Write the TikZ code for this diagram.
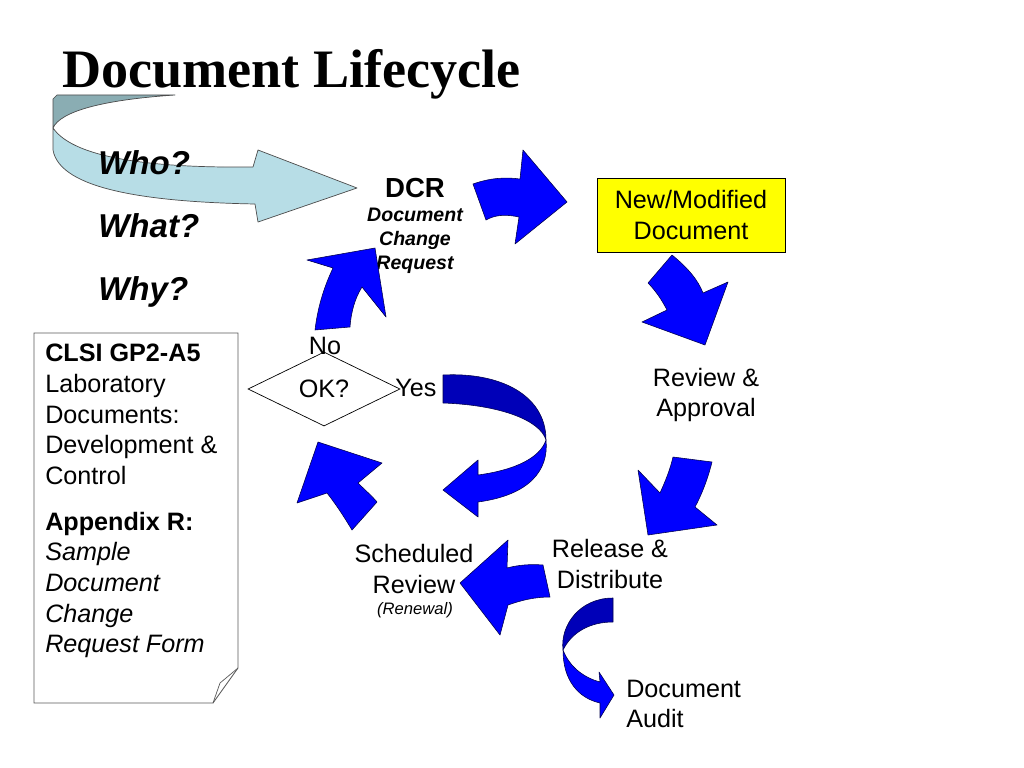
\documentclass[tikz,border=0pt]{standalone}
\usepackage{fontspec}
\setmainfont{Liberation Sans}
\newfontfamily\titlefont{Liberation Serif}
\usetikzlibrary{positioning,shapes.geometric}

\definecolor{flowblue}{HTML}{0000FF}
\definecolor{flowdark}{HTML}{0000B8}
\definecolor{flowline}{HTML}{00004A}
\definecolor{swirllight}{HTML}{B7DDE6}
\definecolor{swirldark}{HTML}{8AADB3}
\definecolor{notegray}{HTML}{5A5A5A}
\definecolor{docyellow}{HTML}{FFFF00}

\tikzset{
  flowtext/.style={font=\fontsize{17.9}{21.6}\selectfont, align=center, inner sep=0pt},
  asktext/.style={font=\fontsize{23.5}{28}\selectfont\bfseries\itshape, inner sep=0pt, anchor=base west},
  blockarrow/.style={fill=flowblue, draw=flowline, line width=0.4pt, line join=round},
  blockshade/.style={fill=flowdark, draw=flowline, line width=0.4pt, line join=round},
  swirl/.style={draw=black!70, line width=0.5pt, line join=round}
}

\begin{document}
\begin{tikzpicture}[x=0.025cm, y=-0.025cm]
  \fill[white] (0,0) rectangle (1024,768);
  \useasboundingbox (0,0) rectangle (1024,768);
  % title
  \node[font=\titlefont\fontsize{38.5}{40}\bfseries\selectfont, anchor=base west, inner sep=0pt] (title) at (62,88) {Document Lifecycle};
  % light blue swirl arrow
  \draw[swirl, fill=swirldark] (53,128) -- (53,99) -- (57,95) -- (175,95) .. controls (100,100) and (60,112) .. (53,128) -- cycle;
  \draw[swirl, fill=swirllight] (53,128) .. controls (75,160) and (160,168) .. (253,167) -- (258,150) -- (357,188) -- (258,222) -- (255,204) .. controls (150,202) and (60,190) .. (53,150) -- cycle;
  % who, what, why
  \foreach \q [count=\i] in {Who?,What?,Why?} {
    \node[asktext] (ask\i) at (98, {111+63*\i}) {\q};
  }
  % DCR
  \node[font=\fontsize{19.6}{22}\bfseries\selectfont, inner sep=0pt, anchor=base] (dcr) at (415,197) {DCR};
  \node[font=\fontsize{13.9}{17}\bfseries\itshape\selectfont, align=center, inner sep=0pt] (dcrtext) at (415,241) {Document\\Change\\Request};
  % new / modified document
  \node[flowtext, draw=black, line width=0.5pt, fill=docyellow, minimum width=4.7cm, minimum height=1.85cm] (newdoc) at (691,215) {New/Modified\\Document};
  % steps round the cycle
  \node[flowtext] (review) at (706,395) {Review \&\\Approval};
  \node[flowtext] (release) at (610,564) {Release \&\\Distribute};
  \node[flowtext] (sched) at (414,569) {Scheduled\\Review};
  \node[font=\fontsize{11.8}{14}\itshape\selectfont, inner sep=0pt] (renew) at (415,610) {(Renewal)};
  \node[flowtext, align=left, anchor=west] (audit) at (626,704) {Document\\Audit};
  % decision
  \node[diamond, draw=black, line width=0.5pt, minimum width=3.8cm, minimum height=1.85cm, inner sep=0pt, font=\fontsize{17.9}{21.6}\selectfont] (ok) at (324,389) {OK?};
  \node[flowtext] (no) at (325,346) {No};
  \node[flowtext] (yes) at (416,388) {Yes};
  % blue block arrows
  \draw[blockarrow] (473,184) .. controls (490,178) and (505,177) .. (520,179) -- (523,150) -- (567,202) -- (515,244) -- (519,217) .. controls (505,214) and (495,215) .. (486,220) -- cycle;
  \draw[blockarrow] (672,255) .. controls (688,268) and (698,280) .. (703,293) -- (728,282) -- (705,345) -- (642,322) -- (667,310) .. controls (662,300) and (655,290) .. (648,283) -- cycle;
  \draw[blockarrow] (673,457) -- (712,462) .. controls (708,478) and (702,494) .. (695,507) -- (717,525) -- (648,535) -- (638,470) -- (660,493) .. controls (665,482) and (670,470) .. (673,457) -- cycle;
  \draw[blockarrow] (543,565) .. controls (530,564) and (518,565) .. (507,568) -- (508,540) -- (460,583) -- (500,635) -- (508,605) .. controls (522,600) and (535,597) .. (550,597) -- cycle;
  \draw[blockarrow] (352,530) .. controls (343,515) and (335,503) .. (327,493) -- (297,503) -- (318,442) -- (382,463) -- (358,483) .. controls (365,490) and (372,496) .. (377,502) -- cycle;
  \draw[blockarrow] (315,330) .. controls (318,305) and (325,285) .. (333,268) -- (307,260) -- (375,248) -- (386,317) -- (362,287) .. controls (355,298) and (351,312) .. (350,327) -- cycle;
  % yes loop
  \draw[blockshade] (443,375) .. controls (500,372) and (546,395) .. (546,440) .. controls (540,420) and (500,405) .. (443,403) -- cycle;
  \draw[blockarrow] (546,440) .. controls (549,470) and (530,495) .. (478,502) -- (478,517) -- (443,490) -- (478,460) -- (478,475) .. controls (515,470) and (540,458) .. (546,440) -- cycle;
  % audit branch
  \draw[blockshade] (613,598) .. controls (580,598) and (560,625) .. (563,650) .. controls (572,632) and (590,622) .. (613,622) -- cycle;
  \draw[blockarrow] (563,650) .. controls (570,668) and (585,678) .. (600,682) -- (599,672) -- (614,695) -- (600,718) -- (600,703) .. controls (578,698) and (563,680) .. (563,650) -- cycle;
  % CLSI note with folded corner
  \draw[notegray, line width=0.6pt] (34,333) -- (238,333) -- (238,668) -- (213,703) -- (34,703) -- cycle;
  \draw[notegray, line width=0.5pt] (213,703) -- (220,683) -- (238,668);
  \node[flowtext, align=left, anchor=north west, font=\fontsize{17.9}{21.8}\selectfont] (note) at (45,344) {\textbf{CLSI GP2-A5}\\Laboratory\\Documents:\\Development \&\\Control\\[10.8pt]\textbf{Appendix R:}\\\textit{Sample}\\\textit{Document}\\\textit{Change}\\\textit{Request Form}};
\end{tikzpicture}
\end{document}
